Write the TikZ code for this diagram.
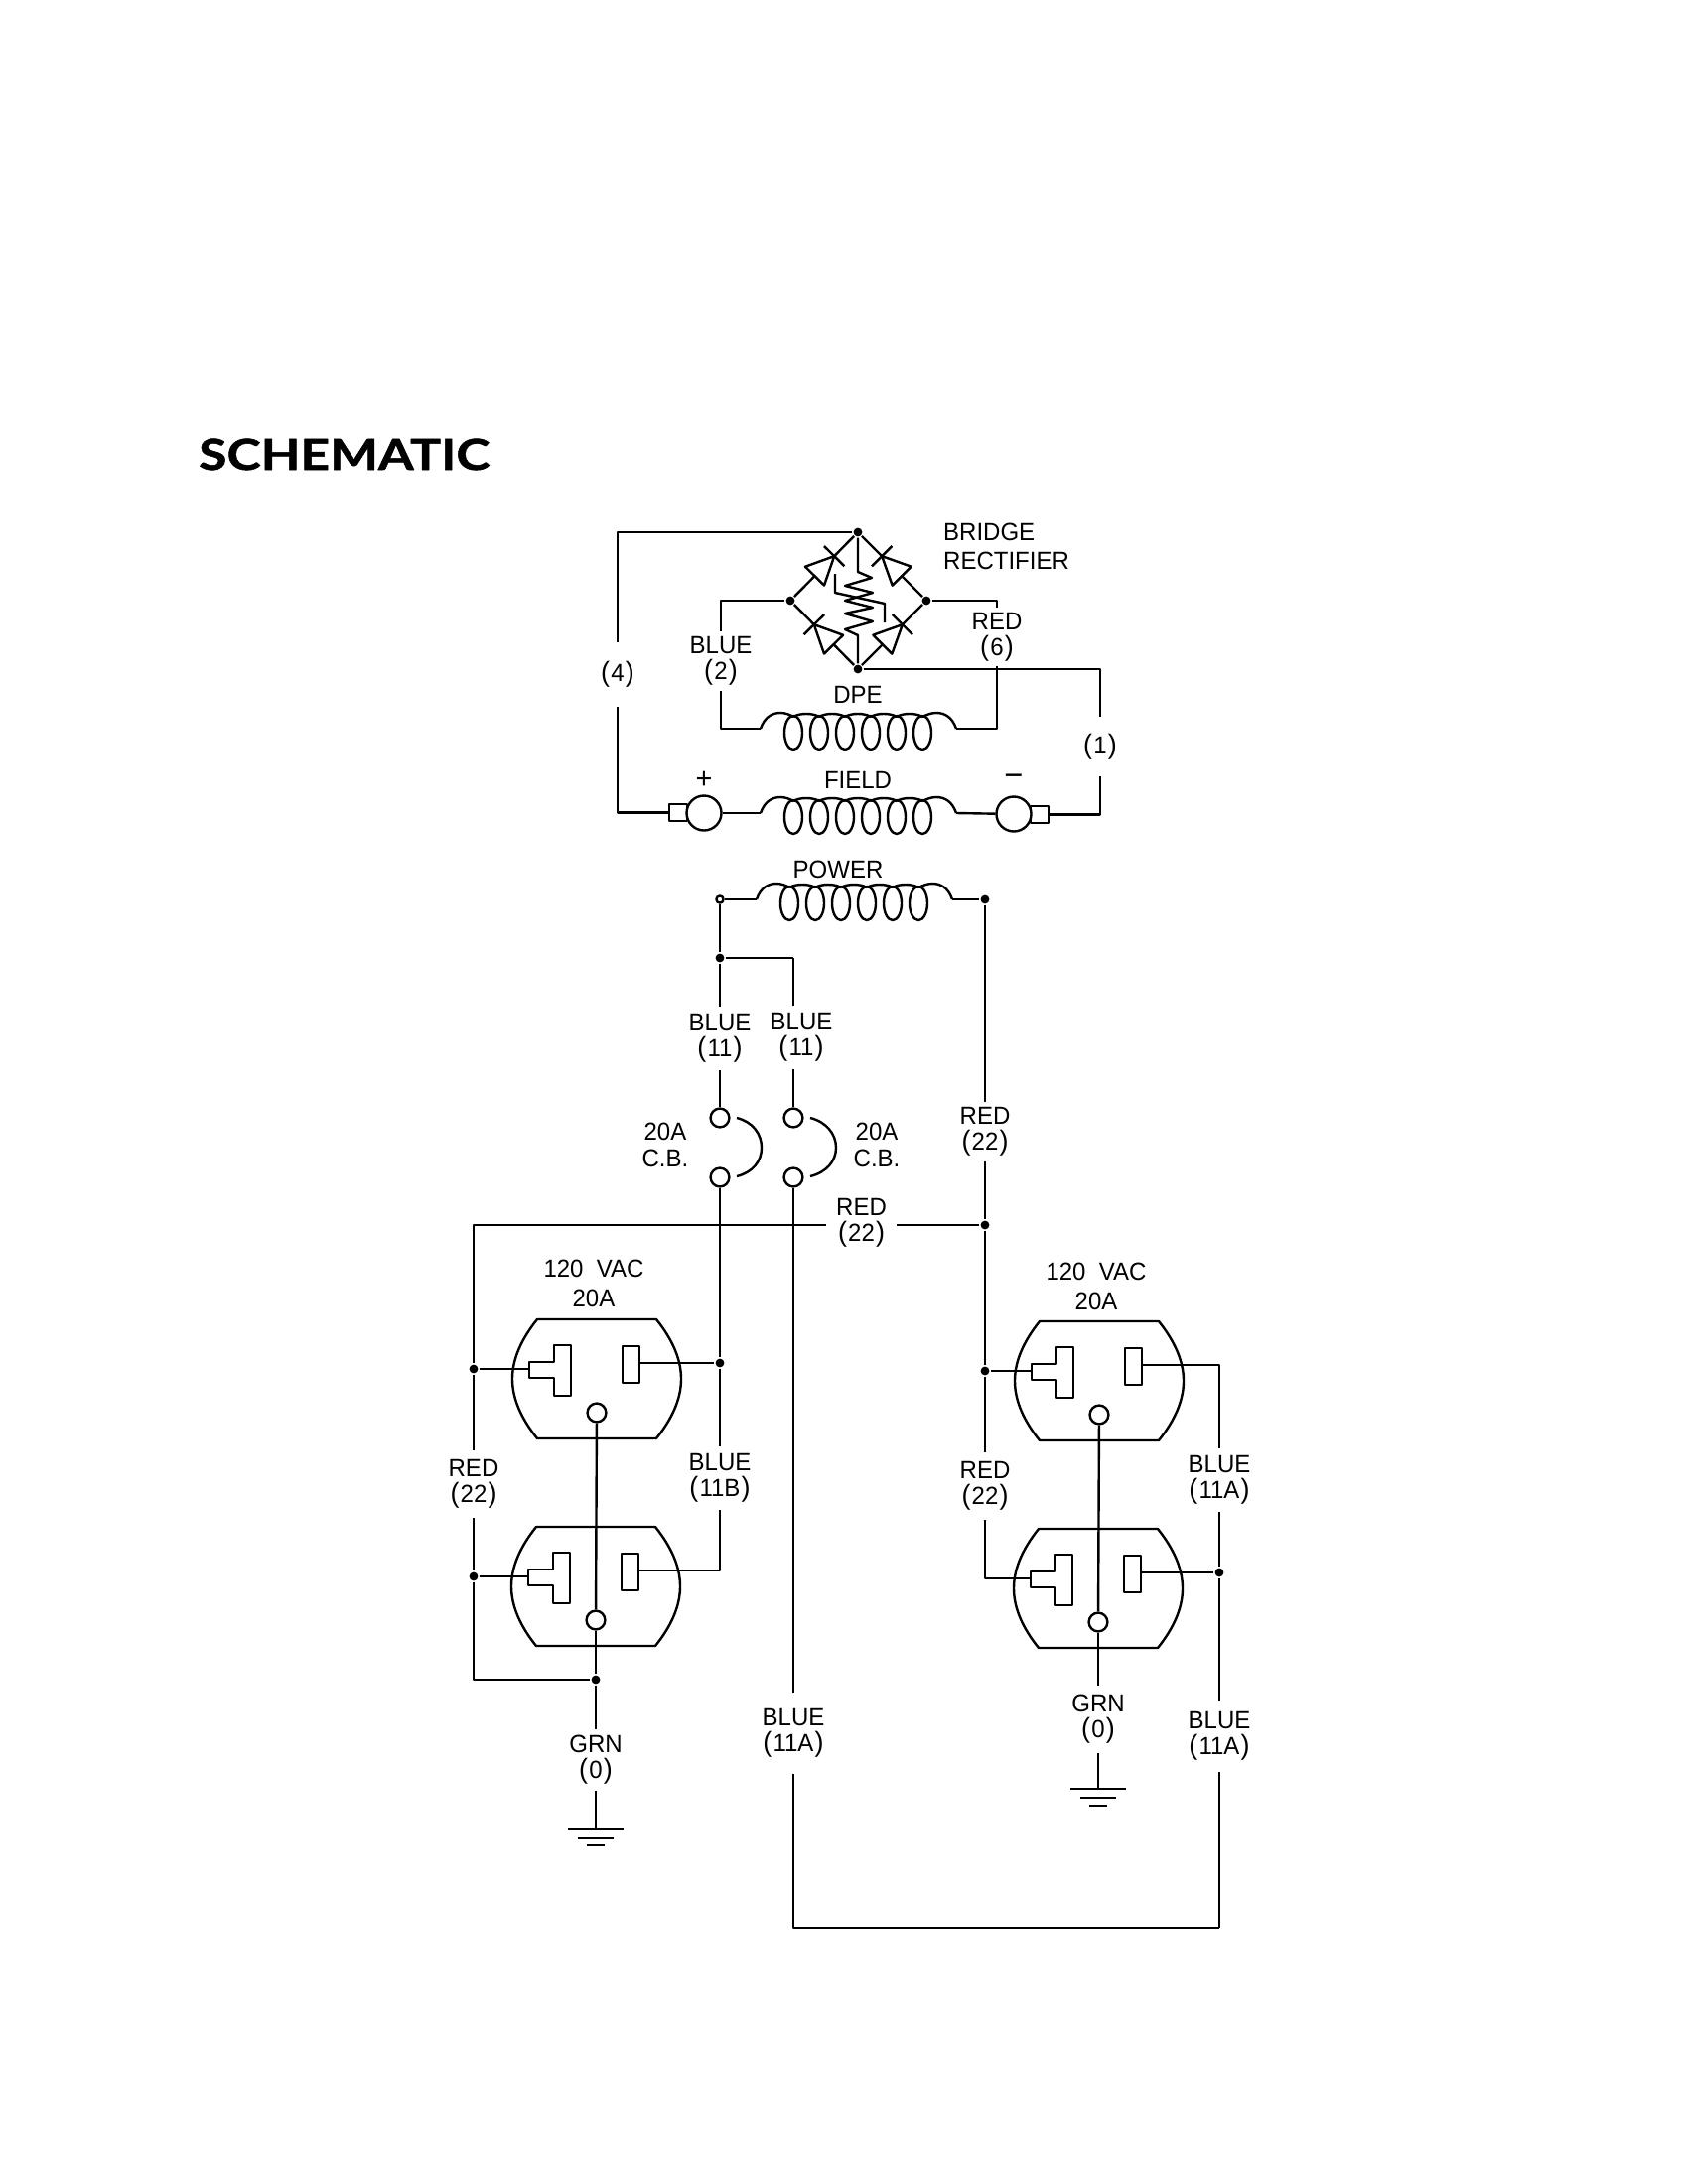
\documentclass[tikz,border=0pt]{standalone}
\usepackage{fontspec}
\setmainfont{Liberation Sans}[FakeStretch=0.96]
\newfontfamily\titlefont{Lato}[FakeStretch=1.2,FakeBold=1.2]
\usetikzlibrary{calc}

\newcommand{\wirefont}{\fontsize{12.5}{13}\selectfont}
\newcommand{\wn}[1]{{\fontsize{14}{13}\selectfont(}\kern.6pt#1\kern.6pt{\fontsize{14}{13}\selectfont)}}

\newcommand{\coil}[1]{%
  \begin{scope}[shift={(#1)}]
    \draw (0,0) .. controls (4,-12) and (12,-16) .. (20,-16) .. controls (25,-16) and (30,-14) .. (33,-12);
    \foreach \cx in {33,59,85,111,137,163} \draw (\cx,4) ellipse [x radius=9,y radius=17];
    \foreach \cx in {33,59,85,111,137} \draw (\cx,-12) .. controls (\cx+6,-16) and (\cx+20,-16) .. (\cx+26,-12);
    \draw (163,-12) .. controls (167,-14) and (172,-16) .. (177,-16) .. controls (185,-16) and (193,-12) .. (197,0);
  \end{scope}}

\newcommand{\diode}[2]{%
  \coordinate (dA) at ($(#1)!.36!(#2)$);
  \coordinate (dC) at ($(#1)!.65!(#2)$);
  \draw (#1) -- (dA) (dC) -- (#2);
  \draw ($(dA)!6.7pt!90:(dC)$) -- ($(dA)!6.7pt!-90:(dC)$) -- (dC) -- cycle;
  \draw ($(dC)!7.2pt!90:(#2)$) -- ($(dC)!7.2pt!-90:(#2)$);}

\newcommand{\outlet}[2]{%
  \begin{scope}[shift={(#2)}]
    \draw (-60,-60) -- (60,-60) .. controls (76,-40) and (85,-20) .. (85,0) .. controls (85,20) and (76,40) .. (60,60)
      -- (-60,60) .. controls (-76,40) and (-85,20) .. (-85,0) .. controls (-85,-20) and (-76,-40) .. (-60,-60) -- cycle;
    \draw (-26,-34) -- (-26,17) -- (-43,17) -- (-43,-1) -- (-68,-1) -- (-68,-17) -- (-43,-17) -- (-43,-34) -- cycle;
    \draw (26,-33) rectangle (43,4);
    \node[hole] (#1h) at (0,34) {};
    \coordinate (#1t) at (-68,-10);
    \coordinate (#1b) at (43,-16);
  \end{scope}}

\newcommand{\ground}[1]{%
  \begin{scope}[shift={(#1)}]
    \draw (-28,0) -- (28,0);
    \draw (-18,9) -- (18,9);
    \draw (-9,17) -- (9,17);
  \end{scope}}

\begin{document}
\begin{tikzpicture}[x=0.5pt,y=-0.5pt,line width=1.2pt,line join=round,every node/.style={align=center,font=\wirefont,inner sep=0pt},
    dot/.style={circle,fill=black,minimum size=4.4pt},
    opendot/.style={circle,draw,fill=white,minimum size=3.6pt},
    hole/.style={circle,draw,minimum size=9.4pt},
    pole/.style={circle,draw,minimum size=17.5pt},
    brush/.style={rectangle,draw,minimum width=9pt,minimum height=8.5pt},
    wirelabel/.style={minimum height=31pt},
    hv/.style={to path={-| (\tikztotarget)}},
    vh/.style={to path={|- (\tikztotarget)}}]
  \useasboundingbox (0,0) rectangle (1696,2200);

  \node[anchor=base west] (title) at (199,473) {\titlefont\bfseries\fontsize{21.5}{24}\selectfont SCHEMATIC};

  \node[dot] (T) at (864,536) {};
  \node[dot] (L) at (796,605) {};
  \node[dot] (R) at (933,605) {};
  \node[dot] (B) at (864,674) {};
  \diode{L}{T}
  \diode{R}{T}
  \diode{B}{L}
  \diode{B}{R}
  \draw (T) -- (864,576) -- (878,582) -- (851,590) -- (879,597) -- (851,605) -- (879,612) -- (851,618) -- (879,626) -- (851,634) -- (864,640) -- (B);
  \draw (841,578) -- (841,597) -- (891,608) -- (891,627);
  \node[anchor=west] (bridge) at (949,536) {BRIDGE};
  \node[anchor=west] (rectifier) at (949,565) {RECTIFIER};

  \node[wirelabel,minimum height=31.5pt] (n4) at (622,679.5) {\wn{4}};
  \node[wirelabel,minimum height=29pt] (n2) at (726,666) {BLUE\\\wn{2}};
  \node[wirelabel,minimum height=28.5pt] (n6) at (1004,641.5) {RED\\\wn{6}};
  \node[wirelabel,minimum height=28.5pt] (n1) at (1108,752) {\wn{1}};
  \node (dpe) at (864,700) {DPE};
  \node (field) at (864,786) {FIELD};
  \node[font=\fontsize{15}{15}\selectfont] (plus) at (709,786) {+};
  \node[font=\fontsize{17}{17}\selectfont] (minus) at (1021,786) {−};

  \coordinate (dpeL) at (766,734);
  \coordinate (dpeR) at (963,734);
  \coordinate (fieldL) at (766,819);
  \coordinate (fieldR) at (963,819);
  \coil{dpeL}
  \coil{fieldL}
  \node[brush] (bp) at (683,818.5) {};
  \node[pole,fill=white] (fp) at (709,819) {};
  \node[brush] (bm) at (1047,820.5) {};
  \node[pole,fill=white] (fm) at (1021,820) {};

  \path
    (T) edge[hv] (n4.north)
    (n4.south) edge[vh] (bp.west)
    (L) edge[hv] (n2.north)
    (n2.south) edge[vh] (dpeL)
    (R) edge[hv] (n6.north)
    (n6.south) edge[vh] (dpeR)
    (B) edge[hv] (n1.north)
    (n1.south) edge[vh] (bm.east)
    (fp) edge (fieldL)
    (fieldR) edge (fm);

  \coordinate (powL) at (762,906);
  \coordinate (powR) at (959,906);
  \coil{powL}
  \node (power) at (844,876) {POWER};
  \node[opendot] (P1) at (725,906) {};
  \node[dot] (P2) at (992,906) {};
  \node[dot] (J1) at (725,965) {};
  \coordinate (J2) at (799,965);

  \node[wirelabel,minimum height=31pt] (n11a) at (725,1046) {BLUE\\\wn{11}};
  \node[wirelabel,minimum height=31pt] (n11b) at (807,1045) {BLUE\\\wn{11}};
  \node[hole] (cb1) at (725,1126) {};
  \node[hole] (cb2) at (725,1186) {};
  \node[hole] (cb3) at (799,1126) {};
  \node[hole] (cb4) at (799,1186) {};
  \draw (742,1126) .. controls (758,1130) and (767,1142) .. (767,1156) .. controls (767,1170) and (758,1181) .. (742,1185);
  \draw (816,1126) .. controls (832,1130) and (842,1142) .. (842,1156) .. controls (842,1170) and (832,1181) .. (816,1185);
  \node (amp1) at (670,1153) {20A\\[.5pt]C.B.};
  \node (amp2) at (883,1153) {20A\\[.5pt]C.B.};
  \node[wirelabel,minimum height=29pt] (n22) at (992,1140) {RED\\\wn{22}};
  \node[wirelabel,minimum width=34.5pt] (n22h) at (867.5,1232) {RED\\\wn{22}};

  \node[dot] (J3) at (992,1234) {};
  \node[dot] (J4) at (725,1373) {};
  \node[dot] (J5) at (477,1379) {};
  \node[dot] (J6) at (477,1588) {};
  \node[dot] (J7) at (992,1381) {};
  \node[dot] (J8) at (1228,1584) {};
  \node[dot] (J9) at (600,1692) {};

  \node (vacA) at (598,1293) {120\ \ VAC\\[2pt]20A};
  \node (vacB) at (1104,1296) {120\ \ VAC\\[2pt]20A};
  \outlet{a}{601,1389}
  \outlet{c}{600,1598}
  \outlet{e}{1107,1391}
  \outlet{f}{1106,1600}

  \node[wirelabel,minimum height=33pt] (nr1) at (477,1495) {RED\\\wn{22}};
  \node[wirelabel] (nb1) at (725,1489) {BLUE\\\wn{11B}};
  \node[wirelabel,minimum height=33pt] (nr2) at (992,1497) {RED\\\wn{22}};
  \node[wirelabel] (nb2) at (1228,1491) {BLUE\\\wn{11A}};
  \node[wirelabel,minimum height=40pt] (nb4) at (799,1746) {BLUE\\\wn{11A}};
  \node[wirelabel,minimum height=35pt] (nb3) at (1228,1749) {BLUE\\\wn{11A}};
  \node[wirelabel,minimum height=29.5pt] (ng1) at (600,1773) {GRN\\\wn{0}};
  \node[wirelabel,minimum height=33pt] (ng2) at (1106,1732) {GRN\\\wn{0}};
  \coordinate (gndA) at (600,1842);
  \coordinate (gndB) at (1106,1802);
  \coordinate (corner) at (1228,1942);
  \ground{gndA}
  \ground{gndB}

  \path
    (powL) edge (P1)
    (powR) edge (P2)
    (P1) edge (J1)
    (J1) edge (n11a.north)
    (J1) edge (J2)
    (J2) edge (J2 |- n11b.north)
    (n11a.south) edge (cb1)
    (cb3) edge (cb3 |- n11b.south)
    (P2) edge (n22.north)
    (n22.south) edge (J3)
    (J3) edge (J3 -| n22h.east)
    (J3 -| n22h.west) edge[hv] (J5)
    (J5) edge (nr1.north)
    (nr1.south) edge (J6)
    (J6) edge[vh] (J9)
    (cb2) edge (J4)
    (J4) edge (nb1.north)
    (nb1.south) edge[vh] (cb)
    (ab) edge (J4)
    (J5) edge (at)
    (J6) edge (ct)
    (J3) edge (J7)
    (J7) edge (nr2.north)
    (nr2.south) edge[vh] (ft)
    (J7) edge (et)
    (eb) edge[hv] (nb2.north)
    (nb2.south) edge (J8)
    (fb) edge (J8)
    (J8) edge (nb3.north)
    (nb3.south) edge (corner)
    (cb4) edge (nb4.north)
    (nb4.south) edge[vh] (corner)
    (ah) edge (ch)
    (ch) edge (J9)
    (J9) edge (ng1.north)
    (ng1.south) edge (gndA)
    (eh) edge (fh)
    (fh) edge (ng2.north)
    (ng2.south) edge (gndB);
\end{tikzpicture}
\end{document}
